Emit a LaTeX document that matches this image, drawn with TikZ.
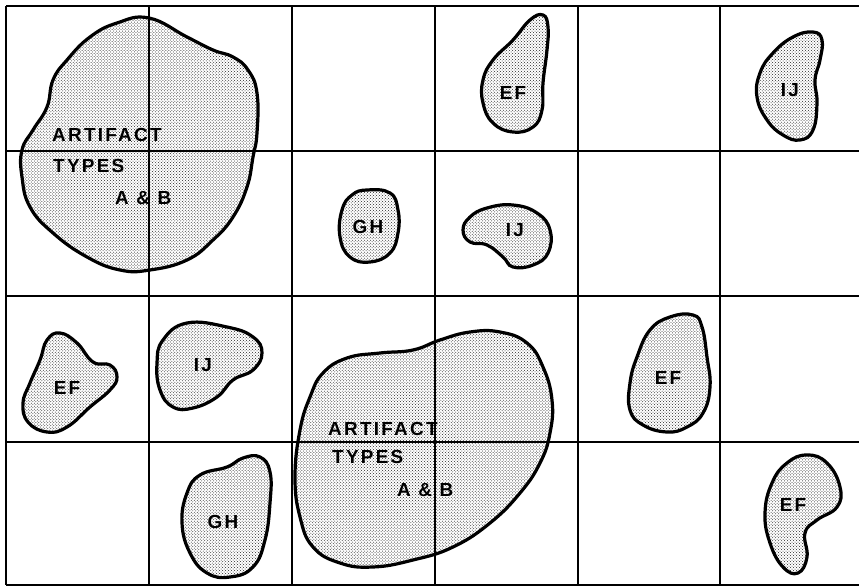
\documentclass[tikz,border=0pt]{standalone}
\usepackage{fontspec}
\newfontfamily\sitefont[LetterSpace=12]{Liberation Sans}
\usetikzlibrary{patterns}
\tikzset{
  blob/.style={draw=black,line width=3.2bp,pattern=crosshatch dots,pattern color=black!85},
  gridline/.style={draw=black,line width=1.8bp},
  typelab/.style={inner sep=0pt,font=\sitefont\bfseries\fontsize{19}{21}\selectfont},
}
\newcommand{\siteblob}[1]{%
  \path[blob] plot[smooth cycle,tension=0.75] coordinates {#1};
}

\begin{document}
\begin{tikzpicture}[x=1bp,y=-1bp]
  \useasboundingbox (0,0) rectangle (859,587);
  \fill[white] (0,0) rectangle (859,587);

  % big areas, types A & B
  \siteblob{(149,18) (187,37) (213,50) (233,57) (248,70) (257,93) (257,133)
    (253,157) (247,187) (233,217) (213,240) (187,260) (150,270) (120,270)
    (87,257) (53,233) (30,207) (22,177) (22,150) (33,130) (47,107) (53,80)
    (67,60) (90,37) (117,23)}
  \siteblob{(500,332) (527,343) (543,367) (552,400) (550,433) (540,463)
    (520,493) (490,523) (453,547) (413,560) (373,567) (340,563) (313,547)
    (300,517) (295,477) (300,430) (310,397) (323,373) (347,358) (380,353)
    (413,350) (440,340) (470,332)}

  % small areas
  \siteblob{(543,15) (548,27) (547,50) (543,83) (542,110) (533,127) (513,132)
    (493,123) (483,103) (483,80) (493,60) (513,40) (530,20)}
  \siteblob{(367,190) (390,193) (398,210) (398,233) (390,253) (370,262)
    (350,257) (340,237) (342,210) (352,195)}
  \siteblob{(463,230) (470,217) (487,208) (513,205) (537,213) (550,230)
    (548,253) (533,265) (513,267) (503,257) (487,245) (470,242)}
  \siteblob{(813,32) (822,40) (820,60) (815,80) (817,103) (813,130) (800,140)
    (783,135) (767,120) (757,97) (760,73) (773,53) (793,37)}
  \siteblob{(60,333) (77,343) (93,362) (110,365) (117,377) (110,390) (90,407)
    (67,427) (47,432) (28,422) (23,403) (30,383) (40,360) (47,340)}
  \siteblob{(187,323) (227,327) (253,337) (262,353) (253,370) (233,380)
    (217,397) (193,408) (173,407) (160,390) (157,363) (163,340)}
  \siteblob{(260,457) (270,472) (270,503) (265,540) (253,567) (230,577)
    (207,573) (190,553) (182,523) (187,493) (200,475) (227,467) (243,458)}
  \siteblob{(693,315) (702,327) (707,357) (710,387) (703,413) (687,427)
    (667,432) (643,425) (630,410) (630,383) (637,357) (650,330) (670,317)}
  \siteblob{(807,455) (827,463) (840,487) (837,507) (817,520) (805,533)
    (807,557) (798,573) (783,567) (770,543) (765,513) (772,483) (787,463)}

  % grid
  \foreach \gx in {6,149,292,435,578,720}
    \draw[gridline] (\gx,6) -- (\gx,585);
  \foreach \gy in {6,151,296,442,585}
    \draw[gridline] (6,\gy) -- (859,\gy);

  % labels
  \node[typelab,anchor=west] (artA) at (52,135) {ARTIFACT};
  \node[typelab,anchor=west] (typA) at (53,166) {TYPES};
  \node[typelab,anchor=west] (abA) at (115,198) {A \& B};
  \node[typelab,anchor=west] (artB) at (328,429) {ARTIFACT};
  \node[typelab,anchor=west] (typB) at (332,457) {TYPES};
  \node[typelab,anchor=west] (abB) at (397,490) {A \& B};
  \node[typelab] (ef1) at (513,93) {EF};
  \node[typelab] (gh1) at (368,227) {GH};
  \node[typelab] (ij1) at (515,230) {IJ};
  \node[typelab] (ij2) at (790,90) {IJ};
  \node[typelab] (ef2) at (67,388) {EF};
  \node[typelab] (ij3) at (203,365) {IJ};
  \node[typelab] (gh2) at (223,522) {GH};
  \node[typelab] (ef3) at (668,378) {EF};
  \node[typelab] (ef4) at (793,505) {EF};
\end{tikzpicture}
\end{document}
